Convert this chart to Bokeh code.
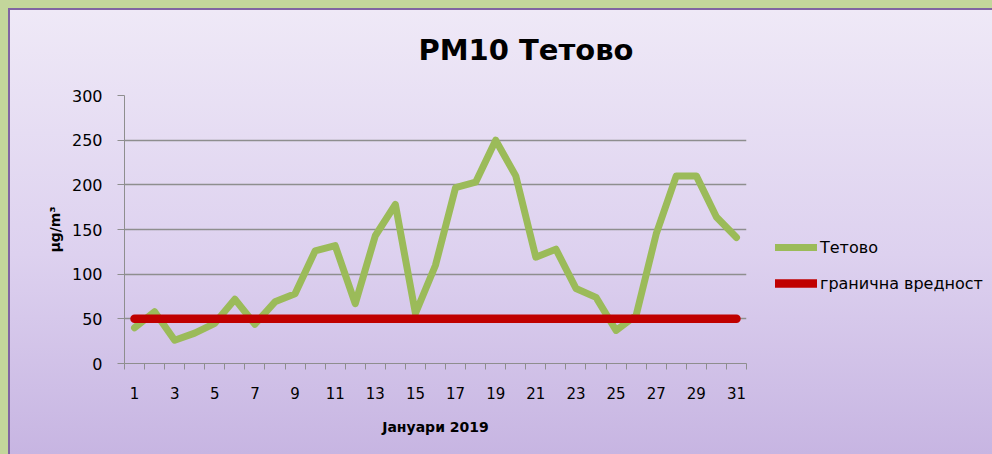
from bokeh.plotting import figure
from bokeh.models import FixedTicker, Legend, LegendItem, Range1d
from bokeh.embed import file_html
from bokeh.resources import INLINE

# ---- data ----
days = list(range(1, 32))
tetovo = [40, 58, 26, 34, 45, 72, 44, 69, 78, 126, 132, 67, 143, 178, 56,
          110, 197, 203, 250, 210, 119, 128, 84, 74, 37, 54, 145, 210, 210, 164, 141]
limit = [50] * 31
y_ticks = [0, 50, 100, 150, 200, 250, 300]
x_label_days = [1, 3, 5, 7, 9, 11, 13, 15, 17, 19, 21, 23, 25, 27, 29, 31]
x_boundaries = [d - 0.5 for d in days] + [31.5]

title_text = "PM10 Тетово"
x_title = "Јануари 2019"
y_title = "µg/m³"
series_name = "Тетово"
limit_name = "гранична вредност"

FONT = "DejaVu Sans"
GREEN = "#9bbb59"
RED = "#c00000"
GRID = "#8e8e8e"

p = figure(frame_width=622, frame_height=268, output_backend="svg", toolbar_location=None,
           x_range=Range1d(0.5, 31.5), y_range=Range1d(0, 300),
           min_border_left=124, min_border_right=246,
           min_border_top=95, min_border_bottom=91)

p.background_fill_color = None
p.border_fill_color = None
p.outline_line_color = None
p.styles = {
    "background": (
        "linear-gradient(to bottom, #efe9f7 0%, #ddd1ef 55%, #c7b5e2 100%) "
        "10px 10px / calc(100% - 10px) calc(100% - 10px) no-repeat, "
        "linear-gradient(#8064a2, #8064a2) 8px 8px / calc(100% - 8px) calc(100% - 8px) no-repeat, "
        "#c3d69b"
    ),
}

# title
p.title.text = title_text
p.title.align = "left"
p.title.offset = 294
p.title.text_font = FONT
p.title.text_font_size = "29px"
p.title.text_font_style = "bold"
p.title.text_color = "black"
p.title.standoff = 58

# axes
xa = p.xaxis[0]
xa.ticker = FixedTicker(ticks=x_label_days, minor_ticks=x_boundaries)
xa.major_tick_out = 0
xa.major_tick_in = 0
xa.minor_tick_out = 6
xa.minor_tick_in = 0
xa.minor_tick_line_color = GRID
xa.axis_line_color = GRID
xa.major_label_text_font = FONT
xa.major_label_text_font_size = "15px"
xa.major_label_text_color = "black"
xa.major_label_standoff = 17
xa.axis_label = x_title
xa.axis_label_text_font = FONT
xa.axis_label_text_font_size = "14px"
xa.axis_label_text_font_style = "bold"
xa.axis_label_text_color = "black"
xa.axis_label_standoff = 17

ya = p.yaxis[0]
ya.ticker = FixedTicker(ticks=y_ticks, minor_ticks=[])
ya.major_tick_out = 7
ya.major_tick_in = 0
ya.major_tick_line_color = GRID
ya.axis_line_color = GRID
ya.major_label_text_font = FONT
ya.major_label_text_font_size = "16px"
ya.major_label_text_color = "black"
ya.major_label_standoff = 15
ya.axis_label = y_title
ya.axis_label_text_font = FONT
ya.axis_label_text_font_size = "14px"
ya.axis_label_text_font_style = "bold"
ya.axis_label_text_color = "black"
ya.axis_label_standoff = 6

p.xgrid.grid_line_color = None
p.ygrid.ticker = FixedTicker(ticks=y_ticks)
p.ygrid.grid_line_color = GRID
p.ygrid.grid_line_width = 1.5

# lines
g = p.line(days, tetovo, line_color=GREEN, line_width=7,
           line_cap="round", line_join="round")
r = p.line(days, limit, line_color=RED, line_width=8.5,
           line_cap="round", line_join="round")

legend = Legend(items=[LegendItem(label=series_name, renderers=[g]),
                       LegendItem(label=limit_name, renderers=[r])],
                location=(29, 70))
legend.glyph_width = 42
legend.glyph_height = 20
legend.label_standoff = 3
legend.spacing = 16
legend.padding = 0
legend.margin = 0
legend.border_line_color = None
legend.background_fill_alpha = 0
legend.label_text_font = FONT
legend.label_text_font_size = "16px"
legend.label_text_color = "black"
p.add_layout(legend, "right")

html = file_html(p, INLINE, title=title_text)
open("out.html", "w").write(html)
